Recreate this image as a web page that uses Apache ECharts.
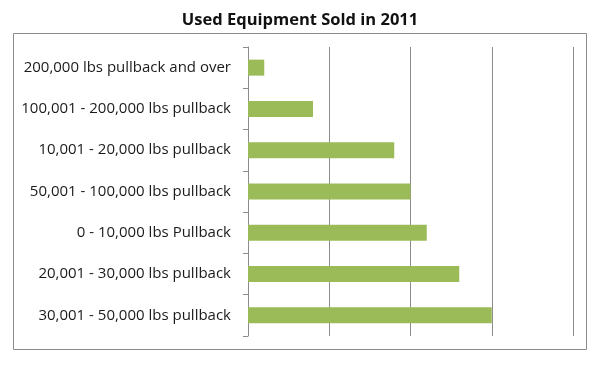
<!DOCTYPE html>
<html><head><meta charset="utf-8">
<script src="https://cdn.jsdelivr.net/npm/echarts@6/dist/echarts.min.js"></script>
<style>html,body{margin:0;padding:0;background:#fff}#c{width:600px;height:367px}</style>
</head><body><div id="c"></div>
<script>
const categories = [
  "200,000 lbs pullback and over",
  "100,001 - 200,000 lbs pullback",
  "10,001 - 20,000 lbs pullback",
  "50,001 - 100,000 lbs pullback",
  "0 - 10,000 lbs Pullback",
  "20,001 - 30,000 lbs pullback",
  "30,001 - 50,000 lbs pullback"
];
const values = [0.2, 0.8, 1.8, 2.0, 2.2, 2.6, 3.0];
const titleText = "Used Equipment Sold in 2011";

const chart = echarts.init(document.getElementById('c'), null, {renderer: 'canvas'});
chart.setOption({
  animation: false,
  backgroundColor: '#fff',
  title: {
    text: titleText, left: 'center', top: 7,
    textStyle: {fontFamily: 'Open Sans', fontWeight: 'bold', fontSize: 16.5, color: '#111'}
  },
  graphic: [{
    type: 'rect', shape: {x: 13.5, y: 33.5, width: 573, height: 316},
    style: {fill: 'none', stroke: '#8a8a8a', lineWidth: 1}, z: -1
  }],
  grid: {left: 248, right: 27, top: 47, bottom: 31},
  xAxis: {
    type: 'value', min: 0, max: 4, interval: 1,
    axisLabel: {show: false}, axisTick: {show: false}, axisLine: {show: false},
    splitLine: {show: true, lineStyle: {color: '#8c8c8c', width: 1}}
  },
  yAxis: {
    type: 'category', data: categories, inverse: true,
    axisLine: {show: true, lineStyle: {color: '#8c8c8c'}},
    axisTick: {show: true, length: 5, lineStyle: {color: '#8c8c8c'}},
    axisLabel: {margin: 17, fontFamily: 'Open Sans', fontSize: 15, color: '#1a1a1a'}
  },
  series: [{
    type: 'bar', data: values, barWidth: 16,
    itemStyle: {color: '#9bbb59'}
  }]
});
</script></body></html>
